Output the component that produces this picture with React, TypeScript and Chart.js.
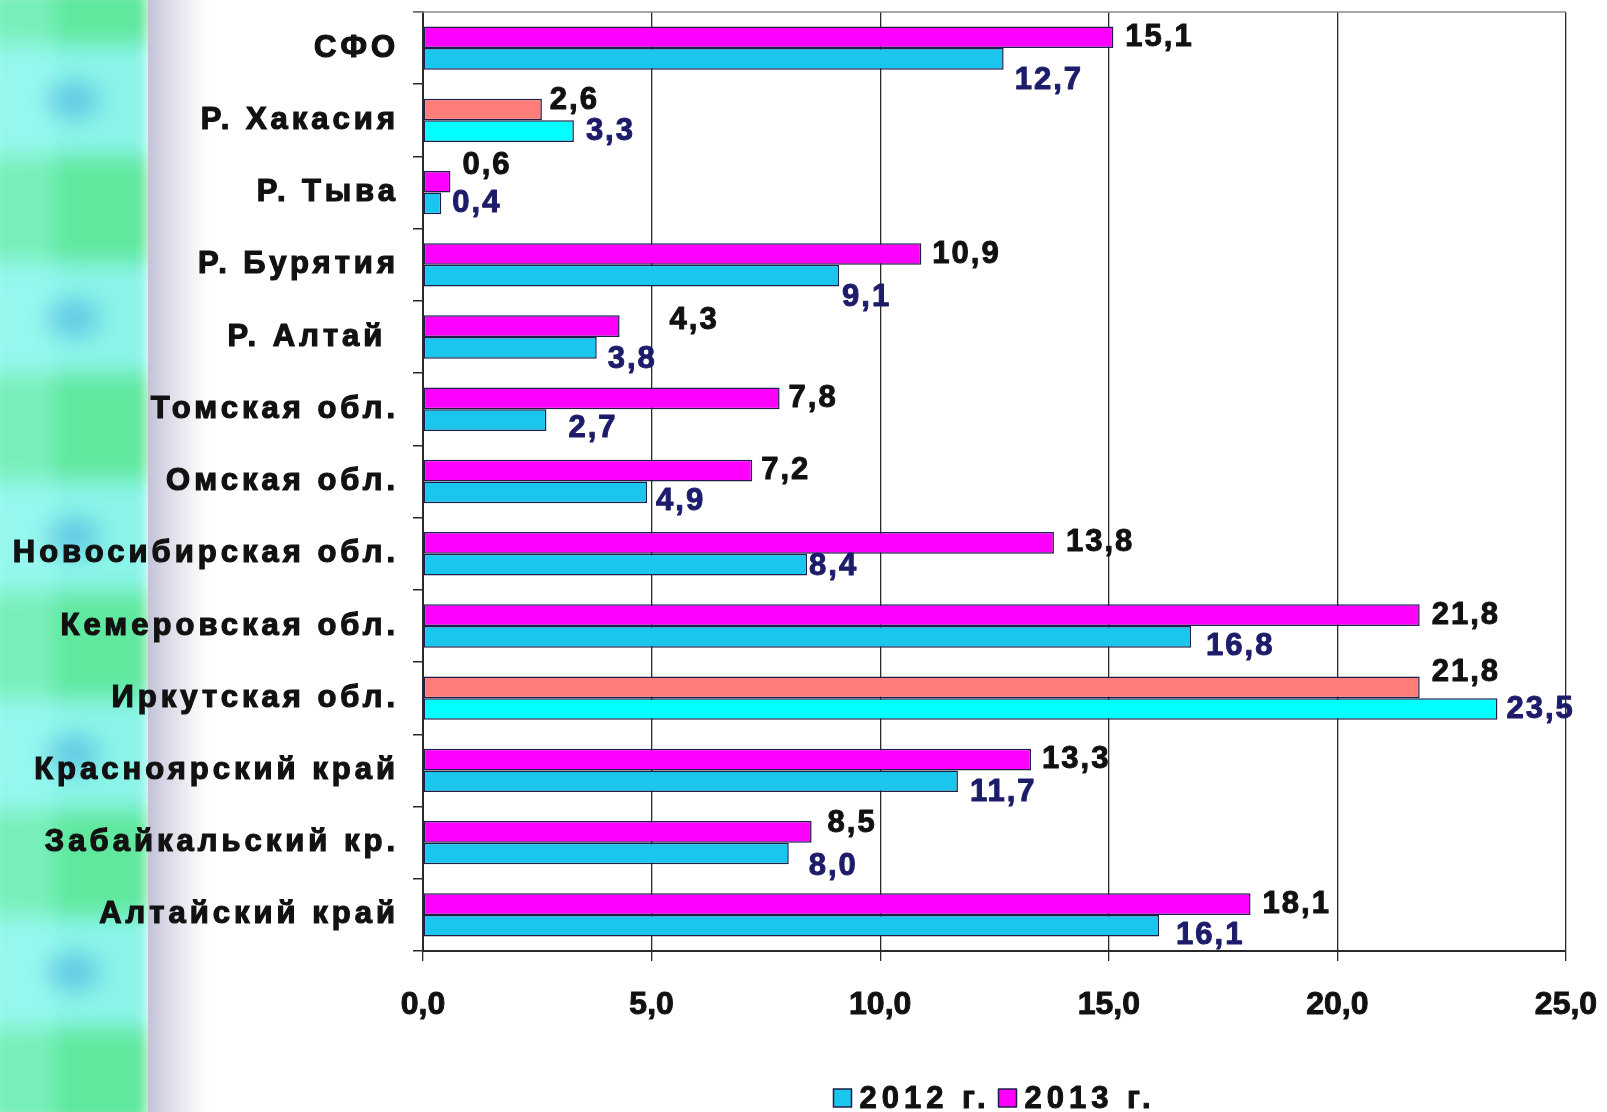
import { useEffect, useRef } from 'react';
import { Chart, registerables } from 'chart.js';

Chart.register(...registerables);

// Regions, top to bottom
const categories = [
  'СФО',
  'Р. Хакасия',
  'Р. Тыва',
  'Р. Бурятия',
  'Р. Алтай ',
  'Томская обл.',
  'Омская обл.',
  'Новосибирская обл.',
  'Кемеровская обл.',
  'Иркутская обл.',
  'Красноярский край',
  'Забайкальский кр.',
  'Алтайский край',
];

const values2012 = [12.7, 3.3, 0.4, 9.1, 3.8, 2.7, 4.9, 8.4, 16.8, 23.5, 11.7, 8.0, 16.1];
const values2013 = [15.1, 2.6, 0.6, 10.9, 4.3, 7.8, 7.2, 13.8, 21.8, 21.8, 13.3, 8.5, 18.1];

const seriesNames = ['2012 г.', '2013 г.'];
const xTickValues = [0, 5, 10, 15, 20, 25];

// Regions whose bars are painted in the alternate colours
const accented = ['Р. Хакасия', 'Иркутская обл.'];

// Hand-placed nudges of the value labels, [dx, dy] in px from the bar end
const shift2013: [number, number][] = [
  [12, 0], [8, -9], [12, -16], [11, 0], [50, -6], [9, 0], [9, 0],
  [12, 0], [12, 0], [12, -15], [11, 0], [16, -8], [12, 0],
];
const shift2012: [number, number][] = [
  [11, 22], [12, 0], [11, 0], [3, 22], [11, 12], [22, 8], [9, 9],
  [2, 2], [15, 10], [9, 0], [12, 11], [20, 13], [17, 10],
];

const COLOR_2012 = '#1bc6ee';
const COLOR_2012_ALT = '#00ffff';
const COLOR_2013 = '#ff00ff';
const COLOR_2013_ALT = '#ff7d78';
const BAR_EDGE = '#1e1e4a';
const LABEL_2012 = '#1c1c6a';
const LABEL_2013 = '#111111';
const FONT_FAMILY = '"Liberation Sans", Arial, sans-serif';

const fmt = (v: number) => v.toFixed(1).replace('.', ',');

const PLOT_LEFT = 423;
const PLOT_TOP = 12;
const PLOT_BOTTOM = 951;
const PLOT_RIGHT_PAD = 41;
const W = 1607;
const H = 1112;

function drawBoldText(ctx: CanvasRenderingContext2D, text: string, x: number, y: number, color: string, stroke: number) {
  ctx.fillStyle = color;
  ctx.strokeStyle = color;
  ctx.lineWidth = stroke;
  ctx.lineJoin = 'round';
  ctx.strokeText(text, x, y);
  ctx.fillText(text, x, y);
}

const valueLabels = {
  id: 'valueLabels',
  afterDatasetsDraw(chart: any) {
    const ctx = chart.ctx as CanvasRenderingContext2D;
    ctx.save();
    ctx.font = `bold 31px ${FONT_FAMILY}`;
    (ctx as any).letterSpacing = '2px';
    ctx.textBaseline = 'middle';
    ctx.textAlign = 'left';
    chart.data.datasets.forEach((ds: any, di: number) => {
      const meta = chart.getDatasetMeta(di);
      const is2012 = ds.label === seriesNames[0];
      const shifts = is2012 ? shift2012 : shift2013;
      meta.data.forEach((el: any, i: number) => {
        const [dx, dy] = shifts[i];
        drawBoldText(ctx, fmt(ds.data[i]), el.x + dx, el.y + dy, is2012 ? LABEL_2012 : LABEL_2013, 1);
      });
    });
    ctx.restore();
  },
};

// Grey frame line along the top of the plot
const topFrame = {
  id: 'topFrame',
  afterDraw(chart: any) {
    const { ctx, chartArea } = chart;
    ctx.save();
    ctx.strokeStyle = '#8a8a8a';
    ctx.lineWidth = 1.5;
    ctx.beginPath();
    ctx.moveTo(chartArea.left - 10, chartArea.top);
    ctx.lineTo(chartArea.right, chartArea.top);
    ctx.stroke();
    ctx.restore();
  },
};

// Category labels with wide tracking
const spacedYLabels = {
  id: 'spacedYLabels',
  beforeDraw(chart: any) {
    const ys = chart.scales.y;
    if (ys && !ys.__spaced) {
      const orig = ys.drawLabels.bind(ys);
      ys.drawLabels = (area: any) => {
        const ctx = chart.ctx;
        ctx.save();
        ctx.letterSpacing = '4px';
        orig(area);
        ctx.restore();
      };
      ys.__spaced = true;
    }
  },
};

const bottomLegend = {
  id: 'bottomLegend',
  afterDraw(chart: any) {
    const ctx = chart.ctx as CanvasRenderingContext2D;
    const { chartArea } = chart;
    ctx.save();
    ctx.font = `bold 31px ${FONT_FAMILY}`;
    (ctx as any).letterSpacing = '5px';
    ctx.textBaseline = 'middle';
    ctx.textAlign = 'left';
    const box = 18;
    const gapBox = 8;
    const gapItem = 8;
    const items = chart.data.datasets
      .slice()
      .sort((a: any, b: any) => seriesNames.indexOf(a.label) - seriesNames.indexOf(b.label));
    const widths = items.map((d: any) => box + gapBox + ctx.measureText(d.label).width);
    const total = widths.reduce((a: number, b: number) => a + b, 0) + gapItem * (items.length - 1);
    let x = (chartArea.left + chartArea.right) / 2 - total / 2;
    const y = 1098;
    items.forEach((d: any, i: number) => {
      ctx.fillStyle = d.label === seriesNames[0] ? COLOR_2012 : COLOR_2013;
      ctx.fillRect(x, y - box / 2, box, box);
      ctx.strokeStyle = BAR_EDGE;
      ctx.lineWidth = 1.5;
      ctx.strokeRect(x, y - box / 2, box, box);
      drawBoldText(ctx, d.label, x + box + gapBox, y + 1, '#111', 1);
      x += widths[i] + gapItem;
    });
    ctx.restore();
  },
};

function BarsChart() {
  const ref = useRef<HTMLCanvasElement | null>(null);

  useEffect(() => {
    if (!ref.current) return;
    const colors2012 = categories.map((c) => (accented.includes(c) ? COLOR_2012_ALT : COLOR_2012));
    const colors2013 = categories.map((c) => (accented.includes(c) ? COLOR_2013_ALT : COLOR_2013));

    const chart = new Chart(ref.current, {
      type: 'bar',
      data: {
        labels: categories,
        datasets: [
          {
            label: seriesNames[1],
            data: values2013,
            backgroundColor: colors2013,
            borderColor: BAR_EDGE,
            borderWidth: 1.5,
            borderSkipped: false,
            categoryPercentage: 0.6,
            barPercentage: 1,
          },
          {
            label: seriesNames[0],
            data: values2012,
            backgroundColor: colors2012,
            borderColor: BAR_EDGE,
            borderWidth: 1.5,
            borderSkipped: false,
            categoryPercentage: 0.6,
            barPercentage: 1,
          },
        ],
      },
      options: {
        indexAxis: 'y',
        responsive: false,
        animation: false,
        layout: { padding: { top: PLOT_TOP, right: PLOT_RIGHT_PAD, bottom: 0, left: 0 } },
        plugins: {
          legend: { display: false },
          tooltip: { enabled: false },
        },
        scales: {
          x: {
            type: 'linear',
            min: 0,
            max: 25,
            afterBuildTicks: (scale: any) => {
              scale.ticks = xTickValues.map((v) => ({ value: v }));
            },
            afterFit: (scale: any) => {
              scale.height = H - PLOT_BOTTOM;
              scale.paddingLeft = 0;
              scale.paddingRight = 0;
            },
            grid: {
              color: '#2a2a2a',
              lineWidth: 1.3,
              drawTicks: true,
              tickLength: 10,
              tickColor: '#2a2a2a',
            },
            border: { display: true, color: '#2a2a2a', width: 2 },
            ticks: {
              color: '#111',
              font: { family: FONT_FAMILY, size: 32, weight: 'bold' },
              textStrokeColor: '#111',
              textStrokeWidth: 1,
              padding: 25,
              maxRotation: 0,
              autoSkip: false,
              callback: (v: any) => fmt(Number(v)),
            },
          },
          y: {
            type: 'category',
            afterFit: (scale: any) => {
              scale.width = PLOT_LEFT;
              scale.paddingTop = 0;
              scale.paddingBottom = 0;
            },
            grid: {
              display: true,
              drawOnChartArea: false,
              drawTicks: true,
              tickLength: 10,
              offset: true,
              color: '#2a2a2a',
              lineWidth: 1.5,
            },
            border: { display: true, color: '#2a2a2a', width: 2 },
            ticks: {
              color: '#111',
              font: { family: FONT_FAMILY, size: 31, weight: 'bold' },
              textStrokeColor: '#111',
              textStrokeWidth: 1.2,
              padding: 14,
              autoSkip: false,
            },
          },
        },
      } as any,
      plugins: [spacedYLabels, valueLabels, topFrame, bottomLegend],
    });
    chart.draw();
    return () => chart.destroy();
  }, []);

  return <canvas ref={ref} width={W} height={H} style={{ position: 'absolute', left: 0, top: 0 }} />;
}

// Soft green/cyan ribbon along the left edge
function SideRibbon() {
  const period = 218;
  return (
    <>
      <div
        style={{
          position: 'absolute',
          left: -10,
          top: -10,
          width: 158,
          height: H + 20,
          filter: 'blur(7px)',
          backgroundImage: [
            `radial-gradient(ellipse 40px 32px at 84px 100px, rgba(75,180,225,0.75), rgba(75,180,225,0) 100%)`,
            `linear-gradient(to right, rgba(175,255,250,0.3) 0, rgba(175,255,250,0.3) 55px, rgba(175,255,250,0) 75px)`,
            `repeating-linear-gradient(to bottom, #60e89e 0px, #60e89e 30px, #8af4e8 58px, #8af4e8 142px, #60e89e 170px, #60e89e ${period}px)`,
          ].join(','),
          backgroundSize: `158px ${period}px, 158px ${period}px, 158px ${period}px`,
          backgroundRepeat: 'repeat-y, repeat-y, repeat',
          backgroundPosition: '0 10px, 0 10px, 0 10px',
        }}
      />
      <div
        style={{
          position: 'absolute',
          left: 148,
          top: 0,
          width: 62,
          height: H,
          background: 'linear-gradient(to right, #c2c2d8 0%, #dcdce8 35%, #f4f4f8 75%, #ffffff 100%)',
        }}
      />
    </>
  );
}

export default function App() {
  return (
    <div
      style={{
        position: 'fixed',
        left: 0,
        top: 0,
        width: W,
        height: H,
        background: '#ffffff',
        overflow: 'hidden',
      }}
    >
      <SideRibbon />
      <BarsChart />
    </div>
  );
}
